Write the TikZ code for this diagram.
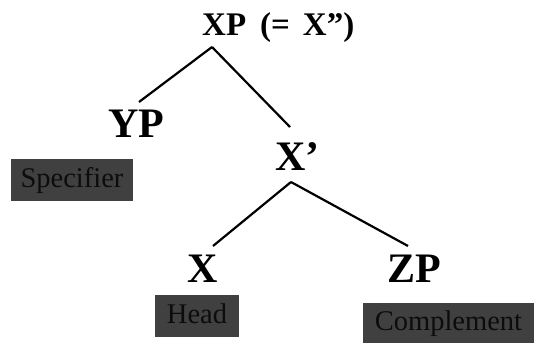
\documentclass[tikz,border=0pt]{standalone}
\usepackage{fontspec}
\setmainfont{Liberation Serif}
\begin{document}
\begin{tikzpicture}[x=1pt,y=-1pt,
  cat/.style={font=\bfseries\fontsize{42}{42}\selectfont, inner sep=0pt, anchor=base},
  role/.style={fill=boxgray, text=boxtext, inner sep=0pt, text height=20pt, text depth=6pt, font=\fontsize{28.5}{28.5}\selectfont},
  branch/.style={line width=2.2pt}]
\definecolor{boxgray}{HTML}{404040}
\definecolor{boxtext}{HTML}{0C0C0C}
\useasboundingbox (0,0) rectangle (534,343);
\node[cat, font=\bfseries\fontsize{33}{33}\selectfont, anchor=base west] (xp) at (202,35) {XP\hspace{14pt}(=\hspace{13pt}X”)};
\node[cat] (yp) at (136.5,137) {YP};
\node[cat, anchor=base west] (xbar) at (275,170) {X’};
\node[cat] (x) at (202.5,282) {X};
\node[cat] (zp) at (414.5,282) {ZP};
\node[role, minimum width=122pt, minimum height=42pt] (spec) at (72,180) {Specifier};
\node[role, minimum width=84pt, minimum height=42pt] (head) at (197,316) {Head};
\node[role, minimum width=171pt, minimum height=40pt] (comp) at (448.5,323) {Complement};
\coordinate (xpfoot) at (212,47);
\coordinate (yptop) at (139,102);
\coordinate (xbartop) at (290,127);
\coordinate (xbarfoot) at (291,182);
\coordinate (xtop) at (213,246);
\coordinate (zptop) at (408,246);
\draw[branch] (xpfoot) -- (yptop);
\draw[branch] (xpfoot) -- (xbartop);
\draw[branch] (xbarfoot) -- (xtop);
\draw[branch] (xbarfoot) -- (zptop);
\end{tikzpicture}
\end{document}
